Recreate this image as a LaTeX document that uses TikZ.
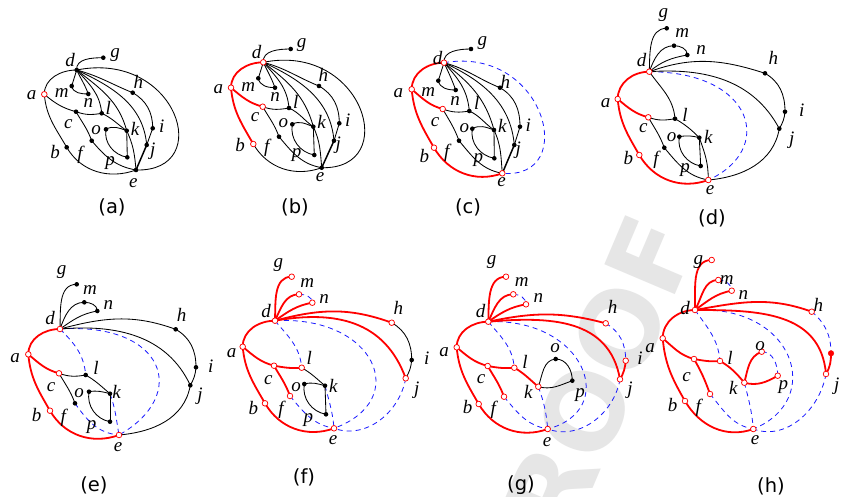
\documentclass[tikz,border=0pt]{standalone}
\usepackage{fontspec}
\setmainfont{Liberation Serif}
\newfontfamily\capfamily{DejaVu Sans}
\newcommand\labfont{\fontsize{19}{19}\selectfont\itshape}
\newcommand\capf{\fontsize{19.5}{19.5}\selectfont\capfamily}
\newcommand\wmfont{\fontsize{105}{105}\selectfont\capfamily\bfseries}
\definecolor{rd}{RGB}{255,0,0}
\definecolor{bl}{RGB}{25,25,255}
\definecolor{wm}{RGB}{230,230,230}
\tikzset{
 blk/.style={draw=black, line width=0.85pt},
 thk/.style={draw=black, line width=1.5pt},
 redl/.style={draw=rd, line width=1.8pt},
 dsh/.style={draw=bl, line width=0.8pt, dash pattern=on 5pt off 4pt},
 bv/.style={circle, fill=black, inner sep=0pt, minimum size=4.6pt},
 rv/.style={circle, draw=rd, fill=white, line width=0.75pt, inner sep=0pt, minimum size=5.6pt},
 rf/.style={circle, draw=rd, fill=rd, inner sep=0pt, minimum size=5.6pt},
 lab/.style={font=\labfont, inner sep=0pt},
 captxt/.style={font=\capf, inner sep=0pt},
}
\newcommand\abcblack[1]{%
 \draw[blk] (#1d) to[out=95,in=180] (#1g);
 \draw[blk] (#1d) -- (#1m);
 \draw[blk] (#1m) to[out=-80,in=180] (#1n);
 \draw[blk] (#1d) to[out=-65,in=110] (#1n);
 \draw[blk] (#1d) to[out=-48,in=95] (#1l);
 \draw[blk] (#1d) to[out=-38,in=105] (#1k);
 \draw[blk] (#1d) to[out=-25,in=95] (#1j);
 \draw[blk] (#1d) to[out=-15,in=158] (#1h);
 \draw[blk] (#1h) to[out=-30,in=90] (#1i);
 \draw[blk] (#1i) -- (#1j);
 \draw[thk] (#1j) -- (#1e);
 \draw[blk] (#1c) to[out=-20,in=190] (#1l);
 \draw[blk] (#1c) to[out=-60,in=110] (#1f);
 \draw[blk] (#1f) to[out=-50,in=170] (#1e);
 \draw[blk] (#1l) to[out=-25,in=145] (#1k);
 \draw[blk] (#1o) to[out=30,in=160] (#1k);
 \draw[blk] (#1o) to[out=-100,in=170] (#1p);
 \draw[blk] (#1k) -- (#1p);
 \draw[blk] (#1k) to[out=-65,in=95] (#1e);
}
\newcommand\abcleft[3]{%
 \draw[#2] (#1a) to[out=90,in=180] (#1d);
 \draw[#2] (#1a) to[out=-40,in=165] (#1c);
 \draw[#2] (#1a) to[out=-85,in=120] (#1b);
 \draw[#3] (#1b) to[out=-60,in=200] (#1e);
}
\begin{document}
\begin{tikzpicture}[x=1pt,y=1pt]
\useasboundingbox (0,0) rectangle (843,-496);
\fill[white] (0,0) rectangle (843,-496);
\node[font=\wmfont, text=wm, rotate=67, inner sep=0pt] (wmk) at (585,-410) {PROOF};

% ---------- panel (a)
\foreach \n/\x/\y in {d/76.7/70, g/103.3/57.7, a/44.3/94.3, m/71.7/86, n/88.3/94, h/132.7/92.7, l/101.7/113.3, c/76/111.7, o/106/129.3, k/126.7/130.7, i/152.7/128.3, j/146.7/145, b/66.7/147.3, f/91.7/140.7, p/127.3/157.3, e/136/170}
  \coordinate (A\n) at (\x,-\y);
\draw[blk] (Ad) .. controls (176.7,-50) and (216,-172) .. (Ae);
\abcblack{A}
\abcleft{A}{blk}{blk}
\foreach \n in {d,g,m,n,h,l,c,o,k,i,j,b,f,p,e} \node[bv] (AV\n) at (A\n) {};
\node[rv] (AVa) at (Aa) {};
\foreach \n/\x/\y in {d/70/60, g/115/55, a/31.7/95, m/61.7/93.3, n/88.3/103.3, h/138.3/81.7, l/108.3/108.3, c/68.3/124.3, o/96/130, k/135/129.3, i/161.7/126.7, j/152.7/151.7, b/55/151.7, f/80/155, p/110/163.3, e/133.3/183.3}
  \node[lab] (AL\n) at (\x,-\y) {\n};
\node[captxt] (capa) at (112,-207) {(a)};

% ---------- panel (b)
\foreach \n/\x/\y in {d/263.3/62.3, g/290.7/49, a/231/87.7, m/258.3/78.3, n/275/87.7, h/319/86, l/289/108, c/262.7/106.7, o/292.3/124.3, k/313.3/126.7, i/339.3/123.3, j/334/140.7, b/253.3/144, f/279/136.7, p/314.3/155, e/321.7/167.7}
  \coordinate (B\n) at (\x,-\y);
\draw[blk] (Bd) .. controls (363.3,-42.3) and (401.7,-169.7) .. (Be);
\abcblack{B}
\abcleft{B}{redl}{blk}
\foreach \n in {g,m,n,h,l,o,k,i,j,f,p,e} \node[bv] (BV\n) at (B\n) {};
\foreach \n in {d,a,c,b} \node[rv] (BV\n) at (B\n) {};
\foreach \n/\x/\y in {d/256.7/51.7, g/301.7/45, a/218.3/89.3, m/248.3/86.7, n/275/96.7, h/323.3/75, l/295.7/101.7, c/255/117.3, o/283.3/123.3, k/321.7/121.7, i/347.7/120, j/338.3/145, b/240/145, f/266.7/148.3, p/296.7/155, e/320/176.7}
  \node[lab] (BL\n) at (\x,-\y) {\n};
\node[captxt] (capb) at (295,-207) {(b)};

% ---------- panel (c)
\foreach \n/\x/\y in {d/444/62.7, g/471/49, a/411.7/89.3, m/438.3/80.7, n/455.7/90, h/500/87.7, l/469.3/111, c/442.7/109, o/472.3/128.7, k/494/130, i/520/126.7, j/514.3/145, b/434/147.7, f/459/140.7, p/494.3/158.3, e/502.3/173.3}
  \coordinate (C\n) at (\x,-\y);
\draw[dsh] (Cd) .. controls (545,-45) and (580,-180) .. (Ce);
\abcblack{C}
\abcleft{C}{redl}{redl}
\foreach \n in {g,m,n,h,l,o,k,i,j,f,p} \node[bv] (CV\n) at (C\n) {};
\foreach \n in {d,a,c,b,e} \node[rv] (CV\n) at (C\n) {};
\foreach \n/\x/\y in {d/437.5/58.5, g/482.3/43.3, a/398.3/93.3, m/428.3/91.7, n/455/100.7, h/505.3/81.7, l/476.7/103.3, c/435/121.7, o/464.3/128.3, k/502.3/126, i/528.3/125, j/518.3/150, b/424.3/156, f/446.7/153.3, p/478.3/160, e/501.7/181.7}
  \node[lab] (CL\n) at (\x,-\y) {\n};
\node[captxt] (capc) at (468,-207) {(c)};

% ---------- panel (d)
\foreach \n/\x/\y in {d/649.3/71.7, g/666.7/28.3, m/674/45.7, n/687.3/55, h/765/73.3, a/617.7/99, l/675/118.7, c/648.3/117.3, i/785/111.7, j/779.3/128.7, o/679.3/136.7, k/699.3/137.7, f/664.3/147.7, b/639.3/155, p/700.7/166, e/708.3/180}
  \coordinate (D\n) at (\x,-\y);
\draw[dsh] (Dd) .. controls (755,-72) and (775,-150) .. (De);
\draw[blk] (Dd) to[out=88,in=180] (Dg);
\draw[blk] (Dd) to[out=70,in=180] (Dm);
\draw[blk] (Dm) to[out=0,in=90] (Dn);
\draw[blk] (Dd) to[out=40,in=190] (Dn);
\draw[blk] (Dd) to[out=20,in=162] (Dh);
\draw[blk] (Dh) to[out=-30,in=90] (Di);
\draw[blk] (Dd) to[out=4,in=118] (Dj);
\draw[blk] (Di) to[out=-95,in=60] (Dj);
\draw[blk] (Dj) to[out=-100,in=5] (De);
\draw[blk] (Dd) to[out=-55,in=95] (Dl);
\draw[blk] (Dc) to[out=-20,in=190] (Dl);
\draw[blk] (Dc) to[out=-60,in=110] (Df);
\draw[blk] (Df) to[out=-50,in=170] (De);
\draw[blk] (Dl) to[out=-30,in=135] (Dk);
\draw[blk] (Do) to[out=10,in=165] (Dk);
\draw[blk] (Do) to[out=-100,in=170] (Dp);
\draw[blk] (Dk) -- (Dp);
\draw[blk] (Dk) to[out=-70,in=90] (De);
\abcleft{D}{redl}{redl}
\foreach \n in {g,m,n,h,l,o,k,i,j,f,p} \node[bv] (DV\n) at (D\n) {};
\foreach \n in {d,a,c,b,e} \node[rv] (DV\n) at (D\n) {};
\foreach \n/\x/\y in {g/663.3/15, m/682.3/33.3, n/701/50, d/641.7/60, h/773.3/58.3, a/605.7/103.3, l/685/115, c/643.3/128.3, i/801.7/110, j/791.7/140, o/671.7/136.7, k/708.3/136.7, f/656/160, b/628.3/158.3, p/685/170, e/710/190}
  \node[lab] (DL\n) at (\x,-\y) {\n};
\node[captxt] (capd) at (712,-218) {(d)};

% ---------- panel (e)
\foreach \n/\x/\y in {g/76.7/284.3, m/84.3/302.3, n/97.3/311, d/60/329, a/28.3/354.3, c/59/373.3, l/85.7/375, h/175.7/329.3, i/196/367.3, j/190.3/385.3, o/89/391.7, k/110/393.7, f/75/403.3, b/50/410.7, p/110/421.7, e/119/435}
  \coordinate (E\n) at (\x,-\y);
\draw[dsh] (Ed) .. controls (165,-322) and (190,-395) .. (Ee);
\draw[dsh] (Ed) to[out=-45,in=95] (El);
\draw[dsh] (Ef) to[out=-55,in=175] (Ee);
\draw[dsh] (Ek) to[out=-70,in=100] (Ee);
\draw[blk] (Ed) to[out=88,in=180] (Eg);
\draw[blk] (Ed) to[out=70,in=180] (Em);
\draw[blk] (Em) to[out=0,in=90] (En);
\draw[blk] (Ed) to[out=35,in=190] (En);
\draw[blk] (Ed) to[out=15,in=160] (Eh);
\draw[blk] (Eh) to[out=-30,in=90] (Ei);
\draw[blk] (Ed) to[out=5,in=115] (Ej);
\draw[blk] (Ei) to[out=-95,in=60] (Ej);
\draw[blk] (Ej) to[out=-100,in=5] (Ee);
\draw[blk] (Ec) to[out=-20,in=190] (El);
\draw[blk] (Ec) to[out=-60,in=110] (Ef);
\draw[blk] (El) to[out=-30,in=140] (Ek);
\draw[blk] (Eo) to[out=10,in=165] (Ek);
\draw[blk] (Eo) to[out=-100,in=170] (Ep);
\draw[blk] (Ek) -- (Ep);
\abcleft{E}{redl}{redl}
\foreach \n in {g,m,n,h,l,o,k,i,j,f,p} \node[bv] (EV\n) at (E\n) {};
\foreach \n in {d,a,c,b,e} \node[rv] (EV\n) at (E\n) {};
\foreach \n/\x/\y in {g/61.7/271.7, m/90/290, n/108.3/305, d/50/318.3, a/15/358, c/51/386.7, l/96/368.3, h/181.7/315, i/210.7/366.7, j/200/396.7, o/79/393.3, k/116.7/391.7, f/63.3/418.3, b/36.7/415, p/91.7/426.7, e/118/447}
  \node[lab] (EL\n) at (\x,-\y) {\n};
\node[captxt] (cape) at (94,-485) {(e)};

% ---------- panel (f)
\foreach \n/\x/\y in {g/291.7/276.7, m/299/294.3, n/312.3/302.7, d/275/320.7, h/391.7/322.7, a/242.7/346.7, i/411.7/360, c/274/365.7, l/301.7/367.7, j/405.7/378.3, o/304.3/384, k/325/385.7, f/290/396, b/265/403.3, p/326/414.3, e/334/428.3}
  \coordinate (F\n) at (\x,-\y);
\draw[dsh] (Fd) .. controls (375,-315) and (412,-400) .. (Fe);
\draw[dsh] (Fj) to[out=-100,in=-20] (Fe);
\draw[dsh] (Fd) to[out=-50,in=95] (Fl);
\draw[dsh] (Ff) to[out=-50,in=170] (Fe);
\draw[dsh] (Fk) to[out=-75,in=95] (Fe);
\draw[dsh] (Fm) to[out=0,in=90] (Fn);
\draw[blk] (Fh) to[out=-30,in=90] (Fi);
\draw[blk] (Fi) to[out=-95,in=60] (Fj);
\draw[blk] (Fl) to[out=-30,in=140] (Fk);
\draw[blk] (Fo) to[out=15,in=165] (Fk);
\draw[blk] (Fo) to[out=-100,in=170] (Fp);
\draw[blk] (Fk) -- (Fp);
\draw[redl] (Fd) to[out=88,in=180] (Fg);
\draw[redl] (Fd) to[out=65,in=180] (Fm);
\draw[redl] (Fd) to[out=35,in=190] (Fn);
\draw[redl] (Fd) to[out=15,in=160] (Fh);
\draw[redl] (Fd) to[out=10,in=110,looseness=1.1] (Fj);
\draw[redl] (Fc) to[out=-10,in=185] (Fl);
\draw[redl] (Fc) to[out=-60,in=110] (Ff);
\abcleft{F}{redl}{redl}
\foreach \n in {i,o,k,p} \node[bv] (FV\n) at (F\n) {};
\foreach \n in {g,m,n,d,h,a,c,l,j,f,b,e} \node[rv] (FV\n) at (F\n) {};
\foreach \n/\x/\y in {g/278.3/265, m/307.3/282.7, n/324/299.3, d/266/310.7, h/398.3/308.3, a/231.7/353.3, i/426.7/358.3, c/268.3/380, l/309.3/358.3, j/416.7/390, o/296/386.7, k/333.3/385.7, f/281/410, b/253.3/408.3, p/308.3/420, e/333/440}
  \node[lab] (FL\n) at (\x,-\y) {\n};
\node[captxt] (capf) at (304,-477) {(f)};

% ---------- panel (g)
\foreach \n/\x/\y in {g/506/276.7, m/513.3/294.3, n/526/304.3, d/488.3/321.7, h/605.7/323.3, a/456.7/347.3, o/555.7/359, i/625.7/360.7, l/514.3/367.7, c/487.7/366, j/620/379.3, k/538.3/386.7, p/572.3/380.7, f/504/396.7, b/478.7/404, e/547.7/429}
  \coordinate (G\n) at (\x,-\y);
\draw[dsh] (Gd) .. controls (585,-318) and (620,-410) .. (Ge);
\draw[dsh] (Gj) to[out=-100,in=-20] (Ge);
\draw[dsh] (Gh) to[out=-30,in=90] (Gi);
\draw[dsh] (Gd) to[out=-50,in=95] (Gl);
\draw[dsh] (Gf) to[out=-50,in=170] (Ge);
\draw[dsh] (Gk) to[out=-70,in=95] (Ge);
\draw[dsh] (Gm) to[out=0,in=90] (Gn);
\draw[blk] (Gk) to[out=70,in=185] (Go);
\draw[blk] (Go) to[out=0,in=90] (Gp);
\draw[blk] (Gk) to[out=-15,in=200] (Gp);
\draw[redl] (Gd) to[out=88,in=180] (Gg);
\draw[redl] (Gd) to[out=65,in=180] (Gm);
\draw[redl] (Gd) to[out=35,in=190] (Gn);
\draw[redl] (Gd) to[out=12,in=165] (Gh);
\draw[redl] (Gd) to[out=5,in=100,looseness=1.1] (Gj);
\draw[redl] (Gi) to[out=-95,in=60] (Gj);
\draw[redl] (Gc) to[out=-10,in=185] (Gl);
\draw[redl] (Gc) to[out=-60,in=110] (Gf);
\draw[redl] (Gl) to[out=-30,in=140] (Gk);
\abcleft{G}{redl}{redl}
\foreach \n in {o,p} \node[bv] (GV\n) at (G\n) {};
\foreach \n in {g,m,n,d,h,a,i,l,c,j,k,f,b,e} \node[rv] (GV\n) at (G\n) {};
\foreach \n/\x/\y in {g/491.7/261.7, m/521.7/281.7, n/538.3/298.3, d/480.7/310.7, h/612.7/306.7, a/444/351.7, o/555/348.3, i/640/358.3, l/525/361.7, c/481/379.3, j/630/390, k/528.3/391.7, p/580/395, f/493.3/410, b/467.7/406.7, e/547/442}
  \node[lab] (GL\n) at (\x,-\y) {\n};
\node[captxt] (capg) at (521,-485) {(g)};

% ---------- panel (h)
\foreach \n/\x/\y in {g/711.7/260, m/718.3/280, n/731.7/290.7, d/695/310, h/811.7/311.7, a/662.7/338.3, o/761.7/351.7, i/831/353.3, l/720/361, c/694/359, j/826/374, p/777.7/375.7, k/744.3/382.7, f/710/394, b/685/401, e/753.3/429}
  \coordinate (H\n) at (\x,-\y);
\draw[dsh] (Hd) .. controls (795,-305) and (825,-400) .. (He);
\draw[dsh] (Hj) to[out=-100,in=-20] (He);
\draw[dsh] (Hh) to[out=-40,in=90] (Hi);
\draw[dsh] (Hd) to[out=-55,in=95] (Hl);
\draw[dsh] (Hf) to[out=-50,in=170] (He);
\draw[dsh] (Hk) to[out=-75,in=95] (He);
\draw[dsh] (Hm) to[out=0,in=90] (Hn);
\draw[dsh] (Ho) to[out=0,in=90] (Hp);
\draw[redl] (Hd) to[out=88,in=180] (Hg);
\draw[redl] (Hd) to[out=60,in=180] (Hm);
\draw[redl] (Hd) to[out=35,in=190] (Hn);
\draw[redl] (Hd) to[out=10,in=160] (Hh);
\draw[redl] (Hd) to[out=0,in=95,looseness=1.1] (Hj);
\draw[redl] (Hi) to[out=-90,in=60] (Hj);
\draw[redl] (Hc) to[out=-10,in=185] (Hl);
\draw[redl] (Hc) to[out=-60,in=110] (Hf);
\draw[redl] (Hl) to[out=-30,in=130] (Hk);
\draw[redl] (Hk) to[out=75,in=200] (Ho);
\draw[redl] (Hk) to[out=-15,in=210] (Hp);
\abcleft{H}{redl}{redl}
\node[rf] (HVi) at (Hi) {};
\foreach \n in {g,m,n,d,h,a,o,l,c,j,p,k,f,b,e} \node[rv] (HV\n) at (H\n) {};
\foreach \n/\x/\y in {g/698.3/261.7, m/726.7/280, n/743.3/295, d/685/308.3, h/818.3/305, a/650/348.3, o/760/346, l/730/358.3, c/686.7/377.3, j/836.7/386.7, p/783.3/386.7, k/733.3/388.3, f/698.3/408.3, b/672.7/405, e/755/440}
  \node[lab] (HL\n) at (\x,-\y) {\n};
\node[captxt] (caph) at (771,-486) {(h)};
\end{tikzpicture}
\end{document}
